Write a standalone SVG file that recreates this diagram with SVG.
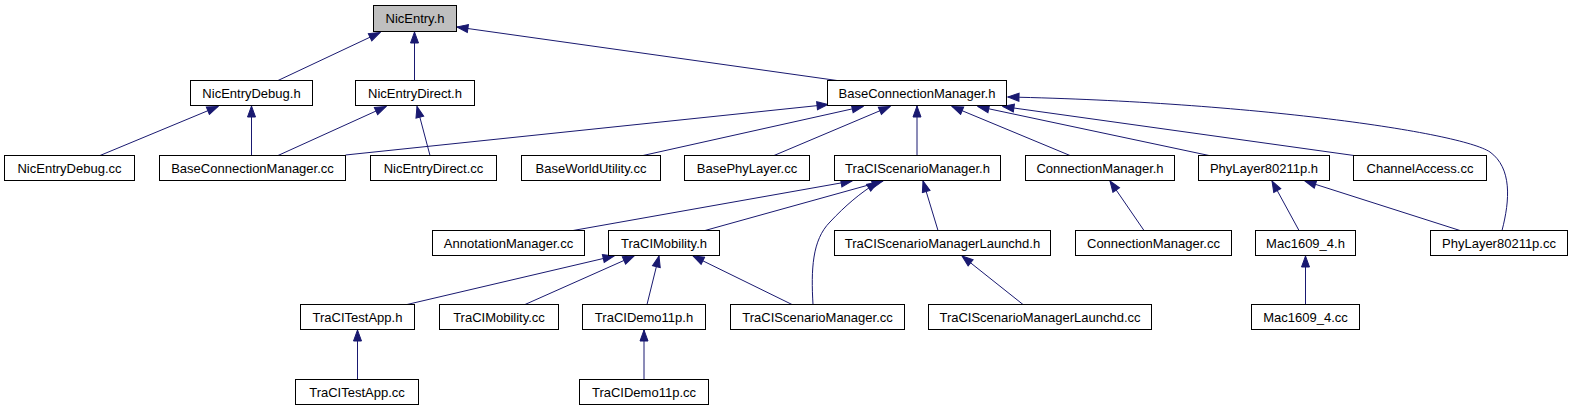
<svg xmlns="http://www.w3.org/2000/svg" width="1572" height="411" viewBox="0 0 1572 411">
<style>
.n rect{fill:#ffffff;stroke:#000000;stroke-width:1}
.n text{font-family:"Liberation Sans",Arial,sans-serif;font-size:13px;fill:#000000;text-anchor:middle}
#n_NicEntry_h rect{fill:#bfbfbf}
.e path{fill:none;stroke:#191970;stroke-width:1;marker-end:url(#arr)}
</style>
<defs>
<marker id="arr" markerUnits="userSpaceOnUse" viewBox="-12 -5 13 10" markerWidth="13" markerHeight="10" refX="0" refY="0" orient="auto">
<path d="M0,0 L-11,-4 L-11,4 Z" fill="#191970" stroke="#191970" stroke-width="1"/>
</marker>
</defs>
<rect width="1572" height="411" fill="#ffffff"/>
<g id="edges" class="e">
<path d="M278,80.5 L380,32.5"/>
<path d="M414.5,80.5 L414.5,32"/>
<path d="M837,80.5 L457,27"/>
<path d="M100,155.5 L218,106.5"/>
<path d="M251.5,155.5 L251.5,106"/>
<path d="M278,155.5 L386,106.5"/>
<path d="M430,155.5 L417,106.5"/>
<path d="M345.5,155 L828,104.5"/>
<path d="M643,155.5 L863,106.5"/>
<path d="M774,155.5 L890,106.5"/>
<path d="M917,155.5 L917,106"/>
<path d="M1070,155.5 L952,106.5"/>
<path d="M1209,155.5 L978,106.5"/>
<path d="M1354,155.5 L1003,106.5"/>
<path d="M1502,230.5 C1510,200 1512,168 1490,152 C1460,132 1250,102 1008,97"/>
<path d="M573,230.5 L852,181"/>
<path d="M705,230.5 L883,181"/>
<path d="M813,304.5 C811,270 812,240 830,222 C845,206 860,193 878,182"/>
<path d="M938,230.5 L923,181"/>
<path d="M1144,230.5 L1110,181"/>
<path d="M1299,230.5 L1272,181"/>
<path d="M1460,230.5 L1305,181"/>
<path d="M407,304.5 L614,256"/>
<path d="M525,304.5 L634,256"/>
<path d="M647,304.5 L659,256"/>
<path d="M792,304.5 L693,256"/>
<path d="M357.5,379.5 L357.5,330"/>
<path d="M644,379.5 L644,330"/>
<path d="M1023,304.5 L962,256"/>
<path d="M1305.5,304.5 L1305.5,256"/>
</g>
<g id="n_NicEntry_h" class="n"><rect x="373.5" y="5.5" width="83" height="26"/><text x="415" y="23">NicEntry.h</text></g>
<g id="n_NicEntryDebug_h" class="n"><rect x="190.5" y="80.5" width="122" height="25"/><text x="251.5" y="97.5">NicEntryDebug.h</text></g>
<g id="n_NicEntryDirect_h" class="n"><rect x="355.5" y="80.5" width="119" height="25"/><text x="415" y="97.5">NicEntryDirect.h</text></g>
<g id="n_BaseConnectionManager_h" class="n"><rect x="827.5" y="80.5" width="179" height="25"/><text x="917" y="97.5">BaseConnectionManager.h</text></g>
<g id="n_NicEntryDebug_cc" class="n"><rect x="4.5" y="155.5" width="130" height="25"/><text x="69.5" y="172.5">NicEntryDebug.cc</text></g>
<g id="n_BaseConnectionManager_cc" class="n"><rect x="159.5" y="155.5" width="186" height="25"/><text x="252.5" y="172.5">BaseConnectionManager.cc</text></g>
<g id="n_NicEntryDirect_cc" class="n"><rect x="370.5" y="155.5" width="126" height="25"/><text x="433.5" y="172.5">NicEntryDirect.cc</text></g>
<g id="n_BaseWorldUtility_cc" class="n"><rect x="521.5" y="155.5" width="139" height="25"/><text x="591" y="172.5">BaseWorldUtility.cc</text></g>
<g id="n_BasePhyLayer_cc" class="n"><rect x="684.5" y="155.5" width="125" height="25"/><text x="747" y="172.5">BasePhyLayer.cc</text></g>
<g id="n_TraCIScenarioManager_h" class="n"><rect x="834.5" y="155.5" width="166" height="25"/><text x="917.5" y="172.5">TraCIScenarioManager.h</text></g>
<g id="n_ConnectionManager_h" class="n"><rect x="1025.5" y="155.5" width="149" height="25"/><text x="1100" y="172.5">ConnectionManager.h</text></g>
<g id="n_PhyLayer80211p_h" class="n"><rect x="1198.5" y="155.5" width="131" height="25"/><text x="1264" y="172.5">PhyLayer80211p.h</text></g>
<g id="n_ChannelAccess_cc" class="n"><rect x="1353.5" y="155.5" width="133" height="25"/><text x="1420" y="172.5">ChannelAccess.cc</text></g>
<g id="n_AnnotationManager_cc" class="n"><rect x="432.5" y="230.5" width="152" height="25"/><text x="508.5" y="247.5">AnnotationManager.cc</text></g>
<g id="n_TraCIMobility_h" class="n"><rect x="608.5" y="230.5" width="111" height="25"/><text x="664" y="247.5">TraCIMobility.h</text></g>
<g id="n_TraCIScenarioManagerLaunchd_h" class="n"><rect x="834.5" y="230.5" width="216" height="25"/><text x="942.5" y="247.5">TraCIScenarioManagerLaunchd.h</text></g>
<g id="n_ConnectionManager_cc" class="n"><rect x="1075.5" y="230.5" width="156" height="25"/><text x="1153.5" y="247.5">ConnectionManager.cc</text></g>
<g id="n_Mac1609_4_h" class="n"><rect x="1255.5" y="230.5" width="100" height="25"/><text x="1305.5" y="247.5">Mac1609_4.h</text></g>
<g id="n_PhyLayer80211p_cc" class="n"><rect x="1430.5" y="230.5" width="137" height="25"/><text x="1499" y="247.5">PhyLayer80211p.cc</text></g>
<g id="n_TraCITestApp_h" class="n"><rect x="300.5" y="304.5" width="114" height="25"/><text x="357.5" y="321.5">TraCITestApp.h</text></g>
<g id="n_TraCIMobility_cc" class="n"><rect x="439.5" y="304.5" width="119" height="25"/><text x="499" y="321.5">TraCIMobility.cc</text></g>
<g id="n_TraCIDemo11p_h" class="n"><rect x="582.5" y="304.5" width="123" height="25"/><text x="644" y="321.5">TraCIDemo11p.h</text></g>
<g id="n_TraCIScenarioManager_cc" class="n"><rect x="730.5" y="304.5" width="174" height="25"/><text x="817.5" y="321.5">TraCIScenarioManager.cc</text></g>
<g id="n_TraCIScenarioManagerLaunchd_cc" class="n"><rect x="928.5" y="304.5" width="223" height="25"/><text x="1040" y="321.5">TraCIScenarioManagerLaunchd.cc</text></g>
<g id="n_Mac1609_4_cc" class="n"><rect x="1251.5" y="304.5" width="108" height="25"/><text x="1305.5" y="321.5">Mac1609_4.cc</text></g>
<g id="n_TraCITestApp_cc" class="n"><rect x="295.5" y="379.5" width="123" height="25"/><text x="357" y="396.5">TraCITestApp.cc</text></g>
<g id="n_TraCIDemo11p_cc" class="n"><rect x="579.5" y="379.5" width="129" height="25"/><text x="644" y="396.5">TraCIDemo11p.cc</text></g>
</svg>
